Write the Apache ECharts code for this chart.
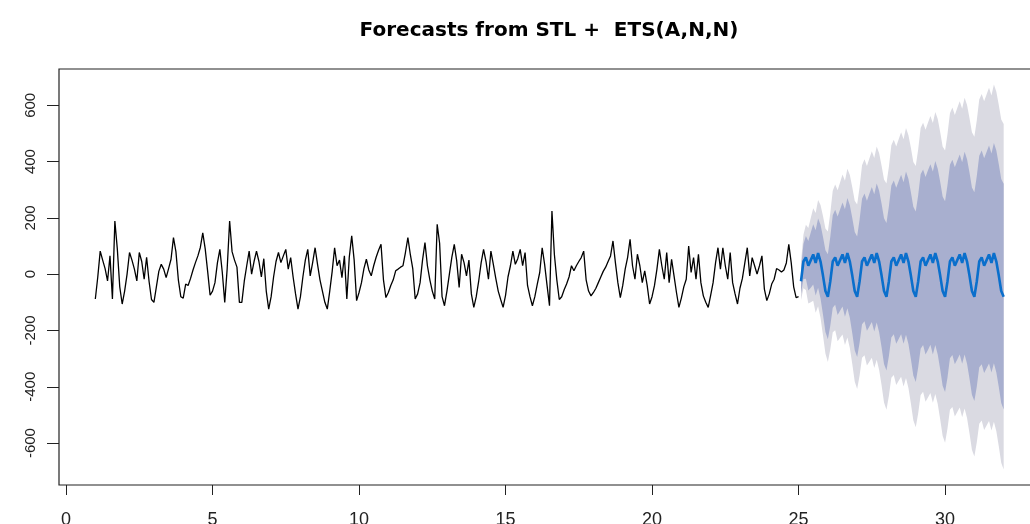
<!DOCTYPE html>
<html>
<head>
<meta charset="utf-8">
<script src="https://cdn.jsdelivr.net/npm/echarts@6/dist/echarts.min.js"></script>
<style>
html, body { margin: 0; padding: 0; background: #fff; }
#chart { width: 1030px; height: 524px; }
</style>
</head>
<body>
<div id="chart"></div>
<script>
// ----------- 数据 -----------
var title_text = "Forecasts from STL +  ETS(A,N,N)"
var hist_start = 1      // 序列起点
var fc_start = 25       // 预测起点
var freq = 12           // 每单位的点数

// 历史序列 (1 ~ 25)
var hist = [
    -88, -10, 82, 50, 20, -24, 65, -88, 189, 90, -45, -106,
    -60, 0, 77, 50, 18, -24, 77, 45, -18, 60, -25, -90,
    -100, -45, 10, 35, 18, -12, 20, 53, 130, 80, -20, -80,
    -85, -35, -40, -15, 15, 41, 65, 95, 147, 90, 10, -75,
    -60, -30, 40, 88, 6, -100, 20, 189, 80, 50, 25, -100,
    -100, -25, 30, 82, 0, 45, 82, 45, -10, 55, -60, -124,
    -80, -10, 45, 77, 41, 65, 88, 18, 59, -10, -70, -124,
    -80, -10, 50, 88, -6, 41, 94, 35, -20, -60, -100, -124,
    -60, 10, 94, 30, 50, -12, 65, -88, 60, 136, 50, -94,
    -65, -30, 20, 53, 15, -6, 30, 60, 85, 106, -20, -83,
    -65, -40, -20, 12, 18, 25, 30, 77, 130, 70, 20, -88,
    -70, -30, 50, 112, 30, -20, -60, -88, 177, 110, -80, -112,
    -60, 0, 60, 106, 47, -47, 71, 41, -6, 50, -70, -118,
    -80, -25, 40, 88, 45, -18, 82, 35, -15, -60, -90, -118,
    -75, -10, 30, 82, 35, 55, 88, 30, 77, -40, -80, -112,
    -80, -35, 6, 94, 35, -40, -112, 224, 70, -20, -90, -80,
    -55, -35, -10, 30, 12, 30, 45, 59, 82, -20, -60, -77,
    -65, -50, -30, -10, 10, 25, 45, 65, 118, 40, -30, -83,
    -40, 18, 60, 124, 30, -18, 71, 30, -30, 12, -40, -106,
    -80, -40, 18, 88, 30, -18, 77, -30, 53, -6, -65, -118,
    -85, -45, -18, 100, 6, 59, -18, 71, -30, -77, -100, -118,
    -75, -30, 40, 94, 18, 94, 30, -18, 77, -30, -70, -106,
    -50, -15, 40, 94, -6, 59, 30, 0, 30, 65, -53, -94,
    -70, -35, -18, 20, 15, 8, 15, 40, 106, 40, -45, -83,
    -80
]

// 预测均值 (25 ~ 32)
var fc_mean = [
    -25, 45, 60, 30, 50, 70, 40, 75, 45, -5, -60, -80,
    -25, 45, 60, 30, 50, 70, 40, 75, 45, -5, -60, -80,
    -25, 45, 60, 30, 50, 70, 40, 75, 45, -5, -60, -80,
    -25, 45, 60, 30, 50, 70, 40, 75, 45, -5, -60, -80,
    -25, 45, 60, 30, 50, 70, 40, 75, 45, -5, -60, -80,
    -25, 45, 60, 30, 50, 70, 40, 75, 45, -5, -60, -80,
    -25, 45, 60, 30, 50, 70, 40, 75, 45, -5, -60, -80
]
// 95% 区间
var hi95 = [
    42, 140, 176, 164, 200, 234, 217, 264, 246, 207, 162, 152,
    217, 296, 319, 298, 326, 354, 332, 375, 352, 309, 261, 248,
    310, 387, 408, 384, 411, 437, 413, 454, 430, 385, 336, 322,
    382, 458, 478, 454, 479, 504, 479, 519, 494, 449, 399, 384,
    444, 519, 538, 513, 538, 562, 537, 576, 551, 505, 454, 439,
    498, 572, 592, 566, 590, 614, 588, 627, 601, 555, 504, 488,
    547, 621, 640, 614, 638, 662, 635, 674, 648, 601, 550, 534
]
var lo95 = [
    -92, -50, -56, -104, -100, -94, -137, -114, -156, -217, -282, -312,
    -267, -206, -199, -238, -226, -214, -252, -225, -262, -319, -381, -408,
    -360, -297, -288, -324, -311, -297, -333, -304, -340, -395, -456, -482,
    -432, -368, -358, -394, -379, -364, -399, -369, -404, -459, -519, -544,
    -494, -429, -418, -453, -438, -422, -457, -426, -461, -515, -574, -599,
    -548, -482, -472, -506, -490, -474, -508, -477, -511, -565, -624, -648,
    -597, -531, -520, -554, -538, -522, -555, -524, -558, -611, -670, -694
]
// 80% 区间
var hi80 = [
    19, 107, 136, 118, 148, 177, 156, 198, 176, 133, 85, 71,
    133, 209, 229, 205, 230, 255, 231, 271, 245, 200, 150, 134,
    194, 268, 287, 261, 286, 310, 284, 322, 296, 250, 199, 182,
    241, 315, 333, 307, 330, 353, 327, 365, 338, 291, 240, 223,
    281, 355, 372, 345, 369, 391, 365, 402, 375, 328, 276, 259,
    317, 389, 407, 380, 403, 425, 398, 435, 408, 361, 308, 291,
    349, 421, 439, 412, 434, 457, 429, 466, 439, 391, 338, 321
]
var lo80 = [
    -69, -17, -16, -58, -48, -37, -76, -48, -86, -143, -205, -231,
    -183, -119, -109, -145, -130, -115, -151, -121, -155, -210, -270, -294,
    -244, -178, -167, -201, -186, -170, -204, -172, -206, -260, -319, -342,
    -291, -225, -213, -247, -230, -213, -247, -215, -248, -301, -360, -383,
    -331, -265, -252, -285, -269, -251, -285, -252, -285, -338, -396, -419,
    -367, -299, -287, -320, -303, -285, -318, -285, -318, -371, -428, -451,
    -399, -331, -320, -351, -334, -317, -349, -316, -349, -401, -458, -481
]

// 刻度
var x_ticks = [0, 5, 10, 15, 20, 25, 30]
var y_ticks = [-600, -400, -200, 0, 200, 400, 600]

// ----------- 组装 -----------
var hist_data = hist.map(function (v, i) { return [hist_start + i / freq, v] })
var fc_x = fc_mean.map(function (v, i) { return fc_start + (i + 1) / freq })
var fc_data = fc_mean.map(function (v, i) { return [fc_x[i], v] })

var light_col = "#dadae2"
var dark_col = "#a8afcf"

// 区间带: 一个多边形 (上界正向 + 下界反向)
function band(name, upper, lower, color) {
    return {
        name: name,
        type: "custom",
        silent: true,
        z: 1,
        data: upper.map(function (v, i) { return [fc_x[i], v, lower[i]] }),
        encode: { x: 0, y: [1, 2] },
        renderItem: function (params, api) {
            if (params.dataIndex !== 0) {
                return
            }
            var pts = []
            for (var i = 0; i < upper.length; i++) {
                pts.push(api.coord([fc_x[i], upper[i]]))
            }
            for (var j = lower.length - 1; j >= 0; j--) {
                pts.push(api.coord([fc_x[j], lower[j]]))
            }
            return {
                type: "polygon",
                shape: { points: pts },
                style: { fill: color, stroke: null }
            }
        }
    }
}

var chart = echarts.init(document.getElementById("chart"))
var option = {
    animation: false,
    backgroundColor: "#fff",
    title: {
        text: title_text,
        left: 549,
        textAlign: "center",
        top: 21,
        padding: 0,
        textStyle: { fontFamily: "DejaVu Sans", fontWeight: "bold", fontSize: 20, color: "#000" }
    },
    grid: {
        left: 59, top: 69, right: -10, bottom: 39,
        show: true, borderColor: "#222", borderWidth: 1.2,
        containLabel: false, outerBoundsMode: "none"
    },
    xAxis: {
        type: "value",
        min: -0.24,
        max: 33.24,
        axisLine: { show: false, onZero: false },
        splitLine: { show: false },
        axisTick: { show: true, customValues: x_ticks, length: 10, lineStyle: { color: "#222", width: 1 } },
        axisLabel: {
            customValues: x_ticks, margin: 26, fontSize: 18,
            fontFamily: "Liberation Sans", color: "#222"
        }
    },
    yAxis: {
        type: "value",
        min: -749,
        max: 729,
        axisLine: { show: false, onZero: false },
        splitLine: { show: false },
        axisTick: { show: true, customValues: y_ticks, length: 12, lineStyle: { color: "#222", width: 1 } },
        axisLabel: {
            customValues: y_ticks, rotate: 90, margin: 21, fontSize: 15,
            fontFamily: "Liberation Sans", color: "#222"
        }
    },
    series: [
        band("95%", hi95, lo95, light_col),
        band("80%", hi80, lo80, dark_col),
        {
            name: "mean", type: "line", data: fc_data, symbol: "none", z: 3,
            lineStyle: { color: "#0a6fcc", width: 2.6 }
        },
        {
            name: "hist", type: "line", data: hist_data, symbol: "none", z: 3,
            lineStyle: { color: "#000", width: 1.3 }
        }
    ]
}
chart.setOption(option)
</script>
</body>
</html>
